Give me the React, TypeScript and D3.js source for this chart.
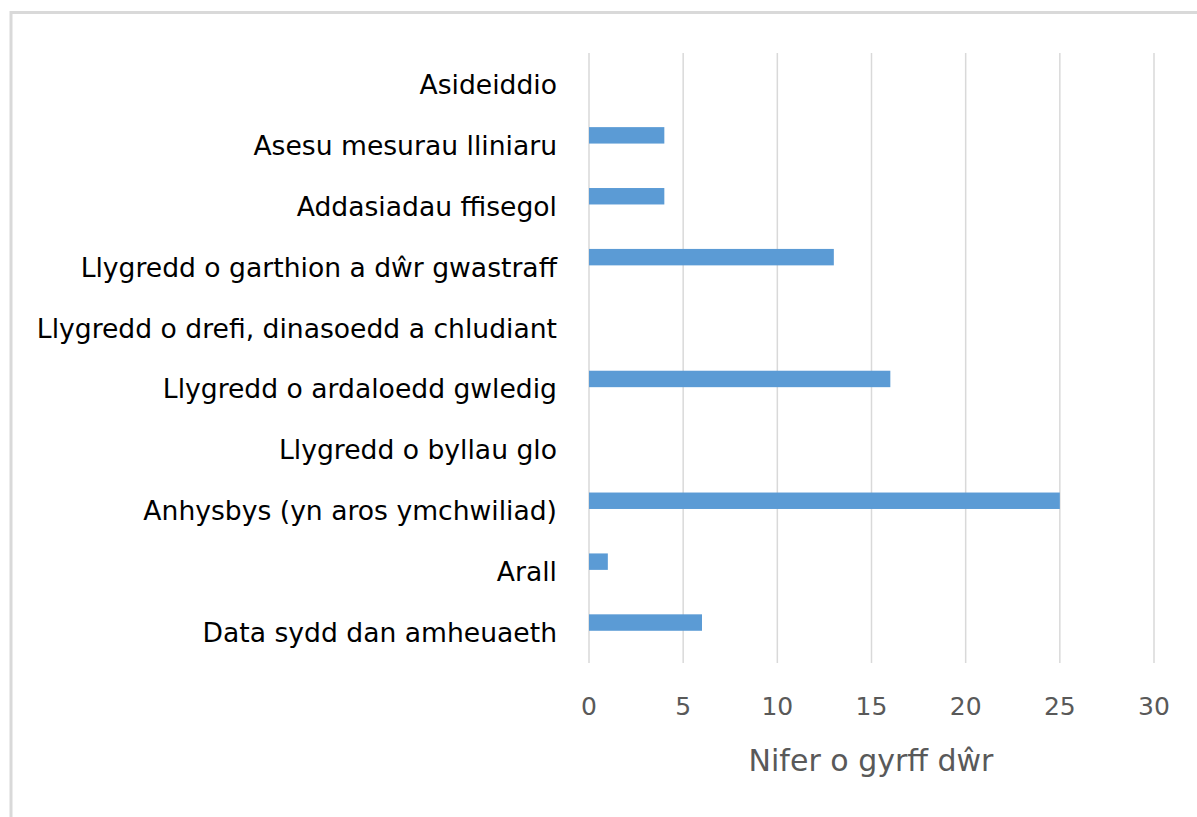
import React from 'react'
import * as d3 from 'd3'

// categories top to bottom, as in the chart
const categories = [
  'Asideiddio',
  'Asesu mesurau lliniaru',
  'Addasiadau ffisegol',
  'Llygredd o garthion a dŵr gwastraff',
  'Llygredd o drefi, dinasoedd a chludiant',
  'Llygredd o ardaloedd gwledig',
  'Llygredd o byllau glo',
  'Anhysbys (yn aros ymchwiliad)',
  'Arall',
  'Data sydd dan amheuaeth',
]
const values = [0, 4, 4, 13, 0, 16, 0, 25, 1, 6]
const xTicks = [0, 5, 10, 15, 20, 25, 30]
const xTitle = 'Nifer o gyrff dŵr'

export default function App() {
  const W = 1197, H = 817
  const font = "'DejaVu Sans', sans-serif"

  const x = d3.scaleLinear().domain([0, 30]).range([589, 1154])
  const y = d3.scaleBand().domain(categories).range([44, 653]).paddingInner(0.73).paddingOuter(0.365)

  return (
    <svg width={W} height={H} style={{ position: 'absolute', left: 0, top: 0, background: '#fff' }}>
      {/* outer chart frame */}
      <rect x={11} y={12.5} width={W + 20} height={H + 20} fill="#fff" stroke="#d9d9d9" strokeWidth={3} />

      {/* vertical gridlines */}
      {xTicks.map(t => (
        <line key={'g' + t} x1={x(t)} x2={x(t)} y1={53} y2={663} stroke="#d9d9d9" strokeWidth={1.5} />
      ))}

      {/* bars */}
      {categories.map((c, i) => (
        <rect key={c} x={x(0)} y={y(c)!} width={x(values[i]) - x(0)} height={y.bandwidth()} fill="#5b9bd5" />
      ))}

      {/* category labels */}
      {categories.map(c => (
        <text key={'l' + c} x={557} y={y(c)! + y.bandwidth() / 2 + 10} textAnchor="end"
          dominantBaseline="central" fontFamily={font} fontSize={26.6} fill="#000">{c}</text>
      ))}

      {/* tick labels */}
      {xTicks.map(t => (
        <text key={'t' + t} x={x(t)} y={706} textAnchor="middle" dominantBaseline="central"
          fontFamily={font} fontSize={25} fill="#595959">{t}</text>
      ))}

      <text x={871} y={760} textAnchor="middle" dominantBaseline="central"
        fontFamily={font} fontSize={30} fill="#595959">{xTitle}</text>
    </svg>
  )
}
